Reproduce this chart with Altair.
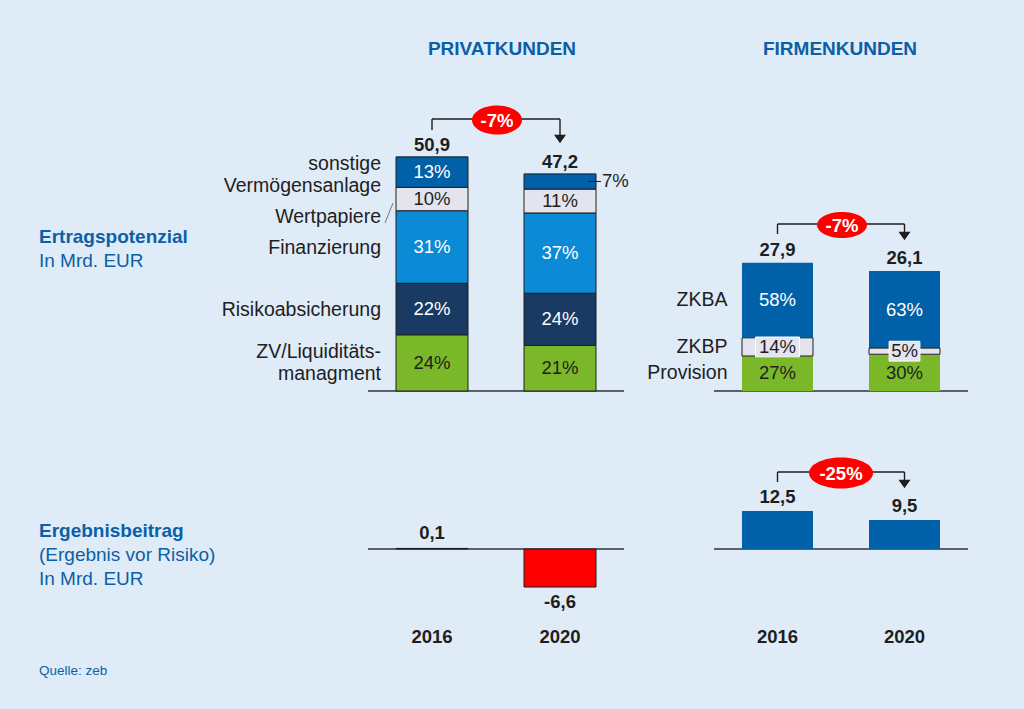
import altair as alt
import pandas as pd

# ---------------- data ----------------
years = ["2016", "2020"]

privat_segments = ["ZV/Liquiditätsmanagment", "Risikoabsicherung", "Finanzierung",
                   "Wertpapiere", "sonstige Vermögensanlage"]           # bottom -> top
privat_seg_labels = ["ZV/Liquiditäts-\nmanagment", "Risikoabsicherung", "Finanzierung",
                     "Wertpapiere", "sonstige\nVermögensanlage"]
privat_totals = [50.9, 47.2]
privat_pct_2016 = [24, 22, 31, 10, 13]
privat_pct_2020 = [21, 24, 37, 11, 7]

firmen_segments = ["Provision", "ZKBP", "ZKBA"]                       # bottom -> top
firmen_totals = [27.9, 26.1]
firmen_pct_2016 = [27, 14, 58]
firmen_pct_2020 = [30, 5, 63]

ergebnis_privat = [0.1, -6.6]
ergebnis_firmen = [12.5, 9.5]

change_privat = "-7%"
change_firmen = "-7%"
change_ergebnis_firmen = "-25%"

# ---------------- styles ----------------
FONT = "Liberation Sans"
BG = "#dfebf7"
BLUE_TXT = "#0b5fa6"
DARKBLUE = "#0060a8"
GREEN = "#7ab829"
GRAY = "#e4e4ee"
MIDBLUE = "#0b8ad5"
NAVY = "#193a63"
RED = "#ff0000"
INK = "#1e1e1e"
FS = 18.5
FSL = 19.5

privat_colors = [GREEN, NAVY, MIDBLUE, GRAY, DARKBLUE]
privat_text_colors = [INK, "white", "white", INK, "white"]
firmen_colors = [GREEN, GRAY, DARKBLUE]
firmen_text_colors = [INK, INK, "white"]


def de(v):
    return f"{v:.1f}".replace(".", ",")


def stack_df(segments, labels, totals, pcts):
    rows = []
    for year, total, pct in zip(years, totals, pcts):
        s = sum(pct)
        cum = 0.0
        for seg, lab, p in zip(segments, labels, pct):
            v = total * p / s
            rows.append(dict(year=year, seg=seg, label=lab, pct=f"{p}%",
                             lo=cum, hi=cum + v, mid=cum + v / 2))
            cum += v
    return pd.DataFrame(rows)


privat_df = stack_df(privat_segments, privat_seg_labels, privat_totals,
                     [privat_pct_2016, privat_pct_2020])
firmen_df = stack_df(firmen_segments, firmen_segments, firmen_totals,
                     [firmen_pct_2016, firmen_pct_2020])
privat_tot_df = pd.DataFrame(dict(year=years, total=privat_totals,
                                  t=[de(v) for v in privat_totals]))
firmen_tot_df = pd.DataFrame(dict(year=years, total=firmen_totals,
                                  t=[de(v) for v in firmen_totals]))
erg_p_df = pd.DataFrame(dict(year=years, val=ergebnis_privat,
                             t=[de(v) for v in ergebnis_privat]))
erg_f_df = pd.DataFrame(dict(year=years, val=ergebnis_firmen,
                             t=[de(v) for v in ergebnis_firmen]))
year_df = pd.DataFrame(dict(year=years))

# ---------------- scales ----------------
XP = alt.Scale(domain=years, range=[368, 624], paddingInner=0.4375, paddingOuter=0.21875)
XF = alt.Scale(domain=years, range=[714, 968], paddingInner=0.441, paddingOuter=0.2205)
YT = alt.Scale(domain=[0, 60], range=[391, 115], nice=False, zero=False)
YBL = alt.Scale(domain=[-10, 10], range=[606.6, 491.4], nice=False, zero=False)
YBR = alt.Scale(domain=[0, 20], range=[549, 488.2], nice=False, zero=False)

one = pd.DataFrame({"a": [0]})


def label(text, x, y, size=FS, bold=False, color=INK, align="left"):
    return alt.Chart(pd.DataFrame({"t": [text]})).mark_text(
        align=align, baseline="alphabetic", fontSize=size,
        fontWeight="bold" if bold else "normal", color=color, font=FONT
    ).encode(text="t:N", x=alt.value(x), y=alt.value(y))


def baseline_rule(yscale, x0, x1):
    return alt.Chart(one).mark_rule(color="#2e333b", strokeWidth=1.6).encode(
        x=alt.value(x0), x2=alt.value(x1), y=alt.Y(datum=0, scale=yscale, axis=None))


def bracket(xscale, y_top, y_left, y_tip, text, ox, ow, oh):
    layers = []
    layers.append(alt.Chart(one).mark_rule(color=INK, strokeWidth=1.4).encode(
        x=alt.X(datum=years[0], scale=xscale, axis=None),
        y=alt.value(y_top), y2=alt.value(y_left)))
    layers.append(alt.Chart(one).mark_rule(color=INK, strokeWidth=1.4).encode(
        x=alt.X(datum=years[0], scale=xscale, axis=None),
        x2=alt.X2(datum=years[1]), y=alt.value(y_top)))
    layers.append(alt.Chart(one).mark_rule(color=INK, strokeWidth=1.4).encode(
        x=alt.X(datum=years[1], scale=xscale, axis=None),
        y=alt.value(y_top), y2=alt.value(y_tip - 6)))
    layers.append(alt.Chart(one).mark_point(
        shape="M-1,-0.7L1,-0.7L0,0.7Z", filled=True, color=INK, opacity=1, size=144
    ).encode(x=alt.X(datum=years[1], scale=xscale, axis=None), y=alt.value(y_tip - 4)))
    k = oh / ow
    layers.append(alt.Chart(one).mark_point(
        shape=f"M-1,0A1,{k:.3f},0,1,1,1,0A1,{k:.3f},0,1,1,-1,0Z",
        filled=True, color=RED, opacity=1, size=ow * ow
    ).encode(x=alt.value(ox), y=alt.value(y_top + 1)))
    layers.append(alt.Chart(pd.DataFrame({"t": [text]})).mark_text(
        fontSize=FS, fontWeight="bold", color="white", font=FONT, baseline="middle"
    ).encode(text="t:N", x=alt.value(ox), y=alt.value(y_top + 2)))
    return layers


def privat_cat(filter_expr, dy):
    return alt.Chart(privat_df).transform_filter(
        f"datum.year == '2016' && ({filter_expr})"
    ).mark_text(fontSize=FSL, font=FONT, align="right", baseline="middle", color=INK,
                dx=-51, dy=dy, lineBreak="\n", lineHeight=22).encode(
        x=alt.X("year:N", scale=XP, axis=None),
        y=alt.Y("mid:Q", scale=YT, axis=None), text="label:N")


layers = []

# ---------- Privatkunden, Ertragspotenzial ----------
layers.append(baseline_rule(YT, 368, 624))
layers.append(alt.Chart(privat_df).mark_bar(stroke=INK, strokeWidth=1).encode(
    x=alt.X("year:N", scale=XP, axis=None),
    y=alt.Y("lo:Q", scale=YT, axis=None), y2="hi:Q",
    color=alt.Color("seg:N", scale=alt.Scale(domain=privat_segments, range=privat_colors), legend=None)))
layers.append(alt.Chart(privat_df).transform_filter(
    "!(datum.year == '2020' && datum.seg == 'sonstige Vermögensanlage')"
).mark_text(fontSize=FS, font=FONT, baseline="middle").encode(
    x=alt.X("year:N", scale=XP, axis=None),
    y=alt.Y("mid:Q", scale=YT, axis=None), text="pct:N",
    color=alt.Color("seg:N", scale=alt.Scale(domain=privat_segments, range=privat_text_colors), legend=None)))
# outside label of the small top segment
small = alt.Chart(privat_df).transform_filter(
    "datum.year == '2020' && datum.seg == 'sonstige Vermögensanlage'")
layers.append(small.mark_rule(color=INK, strokeWidth=1).encode(
    x=alt.value(588), x2=alt.value(601), y=alt.Y("mid:Q", scale=YT, axis=None)))
layers.append(small.mark_text(fontSize=FS, font=FONT, align="left", baseline="middle", color=INK, dx=2).encode(
    x=alt.value(600), y=alt.Y("mid:Q", scale=YT, axis=None), text="pct:N"))
# category labels (right edge = left bar edge - 15 px)
layers.append(privat_cat("datum.seg == 'Finanzierung' || datum.seg == 'Risikoabsicherung'", 1))
layers.append(privat_cat("datum.seg == 'sonstige Vermögensanlage'", -8))
layers.append(privat_cat("datum.seg == 'ZV/Liquiditätsmanagment'", -11))
layers.append(privat_cat("datum.seg == 'Wertpapiere'", 18))
layers.append(alt.Chart(one).mark_rule(color="#777777", strokeWidth=1).encode(
    x=alt.value(385), x2=alt.value(393), y=alt.value(223), y2=alt.value(203)))
# totals
layers.append(alt.Chart(privat_tot_df).mark_text(
    fontSize=FS, fontWeight="bold", font=FONT, color=INK, baseline="alphabetic", dy=-6).encode(
    x=alt.X("year:N", scale=XP, axis=None),
    y=alt.Y("total:Q", scale=YT, axis=None), text="t:N"))
layers += bracket(XP, 119, 130, 143, change_privat, 497, 50, 29)

# ---------- Firmenkunden, Ertragspotenzial ----------
layers.append(baseline_rule(YT, 714, 968))
layers.append(alt.Chart(firmen_df).mark_bar().encode(
    x=alt.X("year:N", scale=XF, axis=None),
    y=alt.Y("lo:Q", scale=YT, axis=None), y2="hi:Q",
    color=alt.Color("seg:N", scale=alt.Scale(domain=firmen_segments, range=firmen_colors), legend=None)))
layers.append(alt.Chart(firmen_df).transform_filter("datum.seg == 'ZKBP'").mark_bar(
    stroke=INK, strokeWidth=1, color=GRAY).encode(
    x=alt.X("year:N", scale=XF, axis=None),
    y=alt.Y("lo:Q", scale=YT, axis=None), y2="hi:Q"))
box14 = "M-1,-0.45L1,-0.45L1,0.45L-1,0.45Z"
box5 = "M-0.7,-0.45L0.7,-0.45L0.7,0.45L-0.7,0.45Z"
layers.append(alt.Chart(firmen_df).transform_filter("datum.seg == 'ZKBP'").mark_point(
    filled=True, opacity=1, fill=GRAY, stroke="white", strokeWidth=1, size=44 * 44).encode(
    x=alt.X("year:N", scale=XF, axis=None),
    y=alt.Y("mid:Q", scale=YT, axis=None),
    shape=alt.Shape("year:N", scale=alt.Scale(domain=years, range=[box14, box5]), legend=None)))
layers.append(alt.Chart(firmen_df).mark_text(fontSize=FS, font=FONT, baseline="middle").encode(
    x=alt.X("year:N", scale=XF, axis=None),
    y=alt.Y("mid:Q", scale=YT, axis=None), text="pct:N",
    color=alt.Color("seg:N", scale=alt.Scale(domain=firmen_segments, range=firmen_text_colors), legend=None)))
layers.append(alt.Chart(firmen_df).transform_filter("datum.year == '2016'").mark_text(
    fontSize=FSL, font=FONT, align="right", baseline="middle", color=INK, dx=-50).encode(
    x=alt.X("year:N", scale=XF, axis=None),
    y=alt.Y("mid:Q", scale=YT, axis=None), text="label:N"))
layers.append(alt.Chart(firmen_tot_df).mark_text(
    fontSize=FS, fontWeight="bold", font=FONT, color=INK, baseline="alphabetic", dy=-7).encode(
    x=alt.X("year:N", scale=XF, axis=None),
    y=alt.Y("total:Q", scale=YT, axis=None), text="t:N"))
layers += bracket(XF, 224, 234, 240, change_firmen, 842, 50, 26)

# ---------- Ergebnisbeitrag, Privatkunden ----------
layers.append(baseline_rule(YBL, 368, 624))
layers.append(alt.Chart(erg_p_df).mark_bar(stroke=INK, strokeWidth=1).encode(
    x=alt.X("year:N", scale=XP, axis=None),
    y=alt.Y("val:Q", scale=YBL, axis=None), y2=alt.Y2(datum=0),
    color=alt.Color("year:N", scale=alt.Scale(domain=years, range=[INK, RED]), legend=None)))
layers.append(alt.Chart(erg_p_df).transform_filter("datum.val >= 0").mark_text(
    fontSize=FS, fontWeight="bold", font=FONT, color=INK, baseline="alphabetic", dy=-9).encode(
    x=alt.X("year:N", scale=XP, axis=None),
    y=alt.Y("val:Q", scale=YBL, axis=None), text="t:N"))
layers.append(alt.Chart(erg_p_df).transform_filter("datum.val < 0").mark_text(
    fontSize=FS, fontWeight="bold", font=FONT, color=INK, baseline="alphabetic", dy=21).encode(
    x=alt.X("year:N", scale=XP, axis=None),
    y=alt.Y("val:Q", scale=YBL, axis=None), text="t:N"))

# ---------- Ergebnisbeitrag, Firmenkunden ----------
layers.append(baseline_rule(YBR, 714, 968))
layers.append(alt.Chart(erg_f_df).mark_bar(color=DARKBLUE).encode(
    x=alt.X("year:N", scale=XF, axis=None),
    y=alt.Y("val:Q", scale=YBR, axis=None), y2=alt.Y2(datum=0)))
layers.append(alt.Chart(erg_f_df).mark_text(
    fontSize=FS, fontWeight="bold", font=FONT, color=INK, baseline="alphabetic", dy=-8).encode(
    x=alt.X("year:N", scale=XF, axis=None),
    y=alt.Y("val:Q", scale=YBR, axis=None), text="t:N"))
layers += bracket(XF, 472, 482, 488, change_ergebnis_firmen, 841, 64, 31)

# ---------- year labels ----------
for xs in (XP, XF):
    layers.append(alt.Chart(year_df).mark_text(
        fontSize=FS, fontWeight="bold", font=FONT, color=INK, baseline="alphabetic").encode(
        x=alt.X("year:N", scale=xs, axis=None), y=alt.value(643), text="year:N"))

# ---------- headings and side texts ----------
layers.append(label("PRIVATKUNDEN", 502, 55, size=19, bold=True, color=BLUE_TXT, align="center"))
layers.append(label("FIRMENKUNDEN", 840, 55, size=19, bold=True, color=BLUE_TXT, align="center"))
layers.append(label("Ertragspotenzial", 39, 243, size=19, bold=True, color=BLUE_TXT))
layers.append(label("In Mrd. EUR", 39, 267, size=19, color=BLUE_TXT))
layers.append(label("Ergebnisbeitrag", 39, 537, size=19, bold=True, color=BLUE_TXT))
layers.append(label("(Ergebnis vor Risiko)", 39, 561, size=19, color=BLUE_TXT))
layers.append(label("In Mrd. EUR", 39, 585, size=19, color=BLUE_TXT))
layers.append(label("Quelle: zeb", 39, 675, size=13.5, color=BLUE_TXT))

chart = alt.layer(*layers).resolve_scale(
    x="independent", y="independent", color="independent", shape="independent"
).properties(
    width=1024, height=709, background=BG, padding=0,
    autosize=alt.AutoSizeParams(type="none")
).configure_view(strokeWidth=0).configure_text(font=FONT)

chart.save("out.html", embed_options={"renderer": "svg", "actions": False})
